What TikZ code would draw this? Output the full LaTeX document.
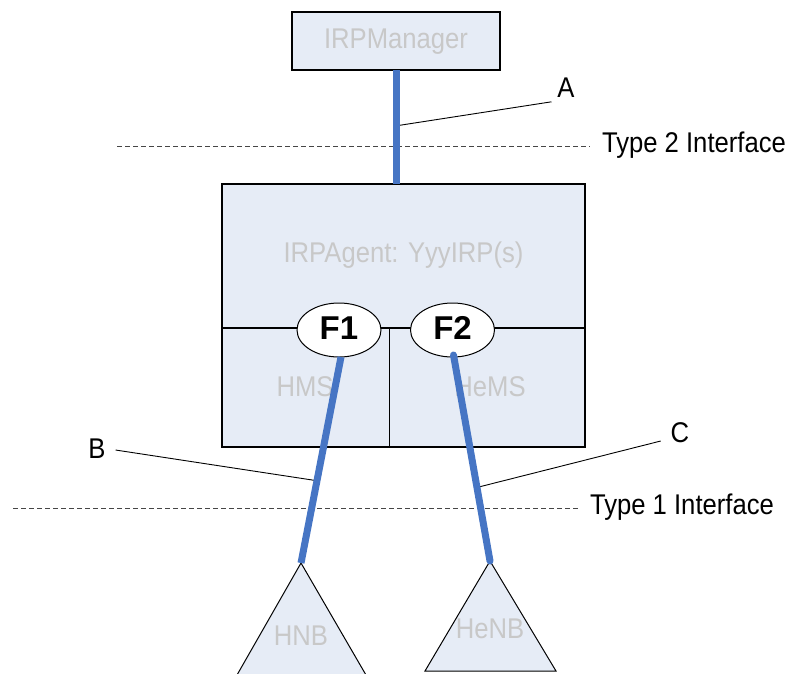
\documentclass[tikz,border=0pt]{standalone}
\usepackage{fontspec}
\setmainfont[FakeStretch=0.9]{Liberation Sans}
\newfontfamily\fontF{Liberation Sans}
\usetikzlibrary{shapes.geometric,calc}
\definecolor{boxfill}{RGB}{230,236,246}
\definecolor{ghost}{RGB}{200,200,200}
\definecolor{linkblue}{RGB}{70,117,196}
\definecolor{dashgray}{RGB}{70,70,70}
\begin{document}
\begin{tikzpicture}[x=1pt,y=-1pt,
  every node/.style={inner sep=0pt,outer sep=0pt,font=\fontsize{28.5}{30}\selectfont},
  boxstyle/.style={draw=black,line width=1.1pt,fill=boxfill,rectangle},
  ghosttext/.style={text=ghost},
  fnode/.style={ellipse,draw=black,line width=1pt,fill=white,minimum width=84pt,minimum height=54pt},
  ftext/.style={font=\fontF\fontsize{33}{34}\selectfont\bfseries},
  bluelink/.style={draw=linkblue,line width=7pt},
  leader/.style={draw=black,line width=0.9pt},
  ifline/.style={draw=dashgray,line width=0.9pt,dash pattern=on 5pt off 3pt},
  tri/.style={draw=black,line width=1pt,fill=boxfill}
]
\useasboundingbox (0,0) rectangle (797,673);
% IRPManager
\node[boxstyle,minimum width=208pt,minimum height=58pt] (mgr) at (396,41) {};
\node[ghosttext] (mgrtxt) at (396,42) {IRPManager};
% Agent box
\node[boxstyle,minimum width=363pt,minimum height=263pt] (agent) at (403.5,315.5) {};
\node[ghosttext] (agenttxt) at (403.5,255) {IRPAgent: YyyIRP(s)};
\coordinate (divL) at (222,328);
\coordinate (divR) at (585,328);
\coordinate (divT) at (389,328);
\coordinate (divB) at (389,447);
\draw[line width=1.1pt] (divL) -- (divR);
\draw[line width=0.9pt] (divT) -- (divB);
\node[ghosttext] (hms) at (305,387) {HMS};
\node[ghosttext] (hems) at (490,387) {HeMS};
% Triangles
\coordinate (hnb) at (301,563);
\coordinate (henb) at (490,561);
\draw[tri] (hnb) -- (237,675) -- (366,675) -- cycle;
\draw[tri] (henb) -- (425,671) -- (556,671) -- cycle;
\node[ghosttext] (hnbtxt) at (301,636) {HNB};
\node[ghosttext] (henbtxt) at (490,629) {HeNB};
% Interfaces
\coordinate (t2a) at (117,146);
\coordinate (t2b) at (590,146);
\draw[ifline] (t2a) -- (t2b);
\node[anchor=west] (t2txt) at (602,145) {Type 2 Interface};
\coordinate (t1a) at (13,508);
\coordinate (t1b) at (579,508);
\draw[ifline] (t1a) -- (t1b);
\node[anchor=west] (t1txt) at (590,507) {Type 1 Interface};
% Ellipses
\node[fnode] (F1) at (339,330) {};
\node[fnode] (F2) at (452.5,330) {};
\node[ftext] (F1txt) at (339,328) {F1};
\node[ftext] (F2txt) at (452.5,328) {F2};
% Labels
\node (la) at (566,88) {A};
\node (lb) at (97,449) {B};
\node (lc) at (680,433) {C};
% Leaders
\draw[leader] ($(mgr.south)!0.49!(mgr.south |- agent.north)$) -- ($(la.south west)+(-6,4)$);
\draw[leader] (lb.east)++(10,1) -- ($(F1.south)!0.6!(hnb)$);
\draw[leader] ($(lc.west)+(-10,8)$) -- ($(F2.south)!0.64!(henb)$);
% Blue links
\draw[bluelink] (mgr.south) -- (mgr.south |- agent.north);
\draw[bluelink] ($(F1.south)+(2,0)$) -- (hnb);
\draw[bluelink,line cap=round] ($(F2.south)+(1,-2)$) -- (henb);
\end{tikzpicture}
\end{document}
